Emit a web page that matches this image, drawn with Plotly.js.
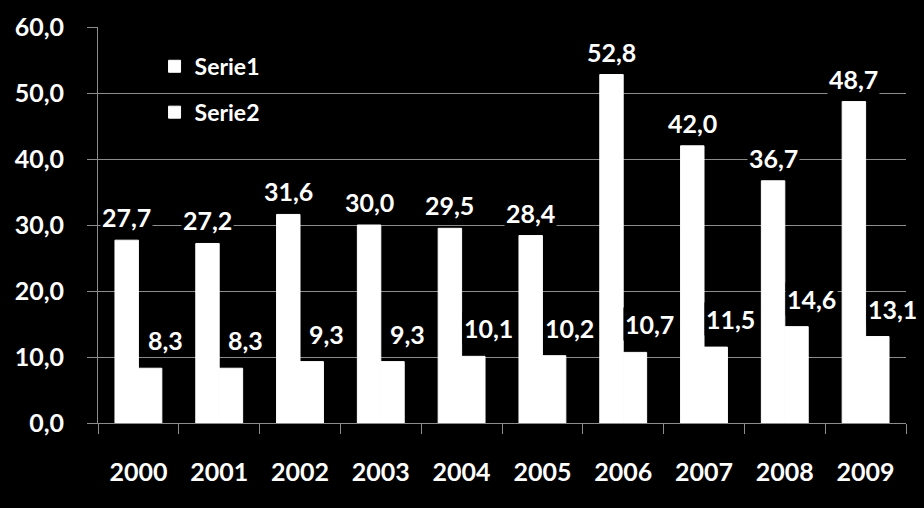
<!DOCTYPE html>
<html>
<head>
<meta charset="utf-8">
<script src="https://cdn.plot.ly/plotly-3.0.1.min.js"></script>
<style>html,body{margin:0;padding:0;background:#000;}#chart{width:924px;height:508px;}</style>
</head>
<body>
<div id="chart"></div>
<script>
var years = ['2000','2001','2002','2003','2004','2005','2006','2007','2008','2009'];
var serie1 = [27.7, 27.2, 31.6, 30.0, 29.5, 28.4, 52.8, 42.0, 36.7, 48.7];
var serie2 = [8.3, 8.3, 9.3, 9.3, 10.1, 10.2, 10.7, 11.5, 14.6, 13.1];
var seriesNames = ['Serie1', 'Serie2'];

var FONT = 'Lato, "Open Sans", "DejaVu Sans", sans-serif';
var grey = '#8c8c8c';

function fmt(v){ return v.toFixed(1).replace('.', ','); }

var traces = [serie1, serie2].map(function(vals, i){
  return {
    type: 'bar', name: seriesNames[i], x: years, y: vals,
    marker: {color: '#ffffff', line: {width: 1, color: '#ffffff'}},
    legendgroup: 'g' + i, hoverinfo: 'none'
  };
});

var plotW = 924 - 98 - 18;
var catW = plotW / years.length;
var bargap = 0.42;
var barW = catW * (1 - bargap) / 2;

var annotations = [];
years.forEach(function(y, k){
  annotations.push({
    x: k, y: serie1[k], xref: 'x', yref: 'y', text: fmt(serie1[k]),
    showarrow: false, xshift: -barW / 2, yshift: 23, yanchor: 'middle',
    bgcolor: '#000', borderpad: 1,
    font: {family: FONT, size: 25, color: '#fff', weight: 'bold'}
  });
  annotations.push({
    x: k, y: serie2[k], xref: 'x', yref: 'y', text: fmt(serie2[k]),
    showarrow: false, xshift: barW / 2 + 15, yshift: 28, yanchor: 'middle',
    bgcolor: '#000', borderpad: 1,
    font: {family: FONT, size: 25, color: '#fff', weight: 'bold'}
  });
});

var layout = {
  width: 924, height: 508,
  paper_bgcolor: '#000', plot_bgcolor: '#000',
  margin: {l: 98, r: 18, t: 27, b: 85},
  separators: ', ',
  barmode: 'group', bargap: bargap, bargroupgap: 0,
  font: {family: FONT, size: 25, color: '#fff', weight: 'bold'},
  showlegend: true,
  legend: {
    x: 0.07, y: 0.955, xanchor: 'left', yanchor: 'top',
    bgcolor: 'rgba(0,0,0,0)', traceorder: 'grouped', tracegroupgap: 13,
    itemwidth: 30,
    font: {family: FONT, size: 23, color: '#fff', weight: 'bold'}
  },
  xaxis: {
    type: 'category', range: [-0.5, years.length - 0.5], autorange: false,
    showgrid: false, showline: true, linecolor: grey, linewidth: 1,
    ticks: 'outside', tickson: 'boundaries', ticklen: 10, tickcolor: grey,
    ticklabelstandoff: 27,
    tickfont: {family: FONT, size: 25, color: '#fff', weight: 'bold'}
  },
  yaxis: {
    range: [0, 60], autorange: false, dtick: 10, tick0: 0, tickformat: '.1f',
    showgrid: true, gridcolor: grey, gridwidth: 1,
    showline: true, linecolor: grey, linewidth: 1, zeroline: false,
    ticks: 'outside', ticklen: 10, tickcolor: grey,
    ticklabelstandoff: 18,
    tickfont: {family: FONT, size: 25, color: '#fff', weight: 'bold'}
  },
  annotations: annotations
};

Plotly.newPlot('chart', traces, layout, {staticPlot: true, displayModeBar: false});
</script>
</body>
</html>
